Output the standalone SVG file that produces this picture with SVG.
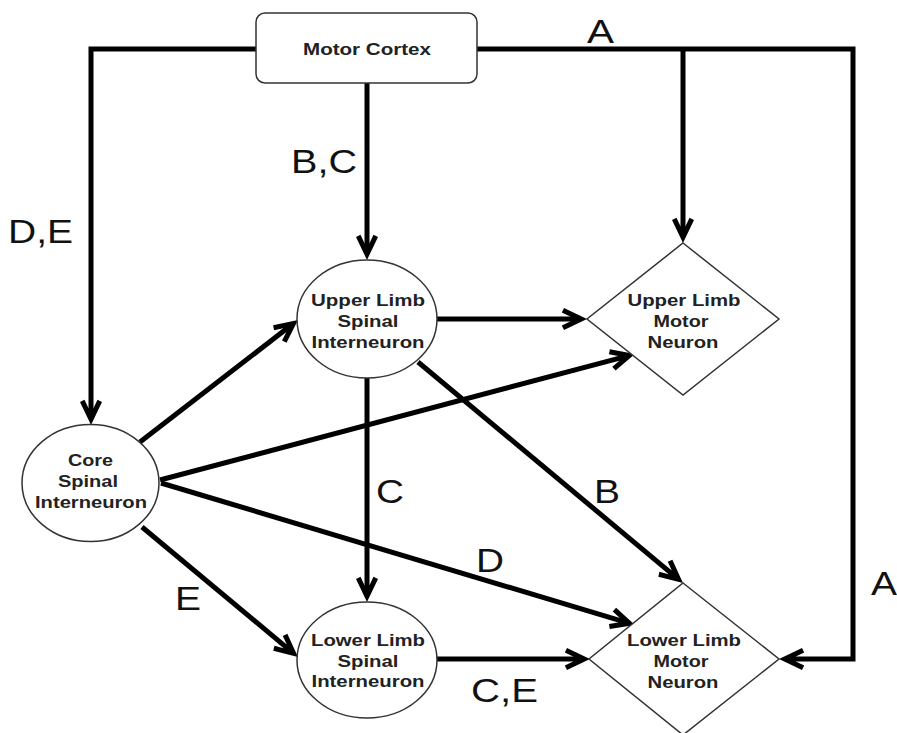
<svg xmlns="http://www.w3.org/2000/svg" width="897" height="733" viewBox="0 0 897 733">
<style>
.node{fill:#fff;stroke:#333;stroke-width:1.5}
.nt{font-family:"Liberation Sans",Arial,sans-serif;font-weight:bold;font-size:16px;fill:#222;text-anchor:middle}
.lbl{font-family:"Liberation Sans",Arial,sans-serif;font-size:34px;fill:#111}
.edge{fill:none;stroke:#000;stroke-width:5;marker-end:url(#arr)}
</style>
<defs>
<marker id="arr" markerUnits="userSpaceOnUse" orient="auto" refX="0" refY="0" markerWidth="40" markerHeight="30" overflow="visible">
<polygon points="10,0 -13,-11 -15.2,-6.5 -6.8,-2.5 -6.8,2.5 -15.2,6.5 -13,11" fill="#000"/>
</marker>
</defs>
<rect width="897" height="733" fill="#fff"/>
<g id="connectors">
<path class="edge" d="M256,49 H91 V415"/>
<path class="edge" d="M367,83 V250"/>
<path class="edge" d="M477,49 H853 V659 H789"/>
<path class="edge" d="M683,49 V233"/>
<path class="edge" d="M140,442 L290.1,326.1"/>
<path class="edge" d="M160,480 L625.3,356.6"/>
<path class="edge" d="M161,483 L625.4,622.1"/>
<path class="edge" d="M142,527 L290.3,650.6"/>
<path class="edge" d="M367,378 V592"/>
<path class="edge" d="M418,362 L675.3,576.6"/>
<path class="edge" d="M436,319 H577"/>
<path class="edge" d="M436,659 H580"/>
</g>
<g id="labels">
<text class="lbl" x="587" y="43" textLength="27" lengthAdjust="spacingAndGlyphs">A</text>
<text class="lbl" x="291" y="173" textLength="66" lengthAdjust="spacingAndGlyphs">B,C</text>
<text class="lbl" x="8" y="243" textLength="65" lengthAdjust="spacingAndGlyphs">D,E</text>
<text class="lbl" x="376" y="503" textLength="28" lengthAdjust="spacingAndGlyphs">C</text>
<text class="lbl" x="594" y="503" textLength="26" lengthAdjust="spacingAndGlyphs">B</text>
<text class="lbl" x="476" y="572" textLength="28" lengthAdjust="spacingAndGlyphs">D</text>
<text class="lbl" x="175" y="610" textLength="26" lengthAdjust="spacingAndGlyphs">E</text>
<text class="lbl" x="471" y="702" textLength="67" lengthAdjust="spacingAndGlyphs">C,E</text>
<text class="lbl" x="871" y="595" textLength="26" lengthAdjust="spacingAndGlyphs">A</text>
</g>
<g id="motor-cortex">
<rect class="node" x="256" y="13" width="221" height="70" rx="9"/>
<text class="nt" x="367" y="55" textLength="128" lengthAdjust="spacingAndGlyphs">Motor Cortex</text>
</g>
<g id="upper-limb-spinal-interneuron">
<ellipse class="node" cx="367" cy="319" rx="70" ry="59"/>
<text class="nt" x="368" y="306" textLength="114" lengthAdjust="spacingAndGlyphs">Upper Limb</text>
<text class="nt" x="368" y="327" textLength="61" lengthAdjust="spacingAndGlyphs">Spinal</text>
<text class="nt" x="368" y="348" textLength="113" lengthAdjust="spacingAndGlyphs">Interneuron</text>
</g>
<g id="upper-limb-motor-neuron">
<polygon class="node" points="683,243 779,319 683,395 587,319"/>
<text class="nt" x="684" y="306" textLength="113" lengthAdjust="spacingAndGlyphs">Upper Limb</text>
<text class="nt" x="681" y="327" textLength="55" lengthAdjust="spacingAndGlyphs">Motor</text>
<text class="nt" x="683" y="348" textLength="71" lengthAdjust="spacingAndGlyphs">Neuron</text>
</g>
<g id="core-spinal-interneuron">
<ellipse class="node" cx="90.5" cy="483" rx="68.5" ry="58.5"/>
<text class="nt" x="90.5" y="466" textLength="45" lengthAdjust="spacingAndGlyphs">Core</text>
<text class="nt" x="88" y="487" textLength="60" lengthAdjust="spacingAndGlyphs">Spinal</text>
<text class="nt" x="91" y="508" textLength="112" lengthAdjust="spacingAndGlyphs">Interneuron</text>
</g>
<g id="lower-limb-spinal-interneuron">
<ellipse class="node" cx="367" cy="660" rx="70" ry="58"/>
<text class="nt" x="368" y="646" textLength="114" lengthAdjust="spacingAndGlyphs">Lower Limb</text>
<text class="nt" x="368" y="667" textLength="61" lengthAdjust="spacingAndGlyphs">Spinal</text>
<text class="nt" x="368" y="687" textLength="113" lengthAdjust="spacingAndGlyphs">Interneuron</text>
</g>
<g id="lower-limb-motor-neuron">
<polygon class="node" points="683,583 779,659 683,735 589,659"/>
<text class="nt" x="684" y="646" textLength="114" lengthAdjust="spacingAndGlyphs">Lower Limb</text>
<text class="nt" x="681" y="667" textLength="55" lengthAdjust="spacingAndGlyphs">Motor</text>
<text class="nt" x="683" y="688" textLength="71" lengthAdjust="spacingAndGlyphs">Neuron</text>
</g>
</svg>
